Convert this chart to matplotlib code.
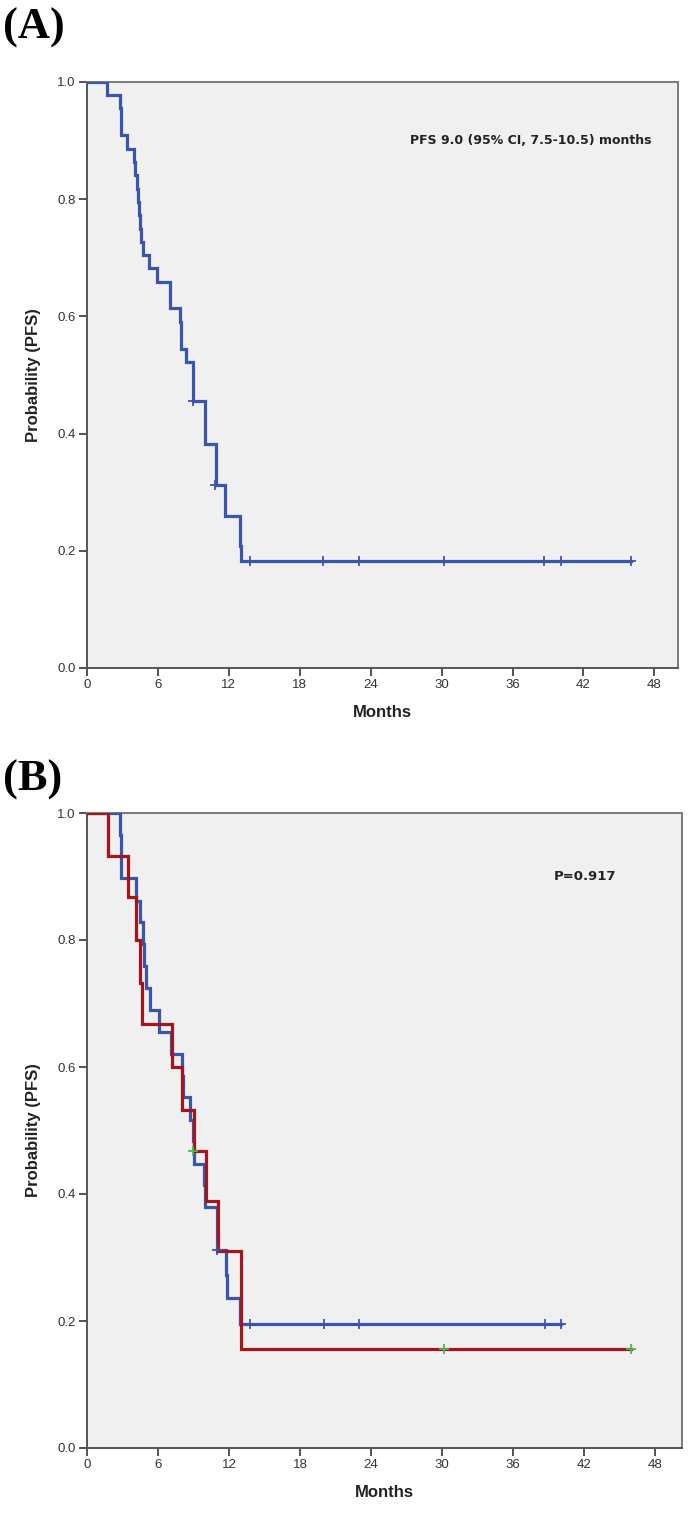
import matplotlib
matplotlib.use("Agg")
import matplotlib.pyplot as plt

# ---- Panel A data ----
a_times = [0, 1.7, 2.8, 2.9, 3.35, 4.0, 4.1, 4.2, 4.3, 4.4, 4.5, 4.6, 4.7, 5.25, 5.9,
           7.05, 7.85, 7.95, 8.35, 8.95, 9.95, 10.95, 11.65, 12.95, 13.05]
a_surv = [1.0, 0.977, 0.955, 0.909, 0.886, 0.864, 0.841, 0.818, 0.795, 0.773, 0.750,
          0.727, 0.705, 0.682, 0.659, 0.614, 0.591, 0.545, 0.523, 0.455, 0.383, 0.312,
          0.260, 0.208, 0.182]
a_end = 46.0
a_cens_t = [9.0, 10.85, 13.8, 20.0, 23.0, 30.2, 38.7, 40.1, 46.0]
a_cens_s = [0.455, 0.312, 0.182, 0.182, 0.182, 0.182, 0.182, 0.182, 0.182]
a_text = "PFS 9.0 (95% CI, 7.5-10.5) months"

# ---- Panel B data ----
b1_times = [0, 2.8, 2.9, 4.15, 4.5, 4.75, 4.85, 5.0, 5.35, 6.05, 7.1, 8.05, 8.15, 8.7,
            8.95, 9.05, 9.85, 9.95, 10.95, 11.75, 11.85, 12.95]
b1_surv = [1.0, 0.966, 0.897, 0.862, 0.828, 0.793, 0.759, 0.724, 0.690, 0.655, 0.621,
           0.586, 0.552, 0.517, 0.483, 0.448, 0.414, 0.379, 0.312, 0.272, 0.236, 0.195]
b1_end = 40.1
b1_cens_t = [11.0, 13.8, 20.0, 23.0, 38.7, 40.1]
b1_cens_s = [0.312, 0.195, 0.195, 0.195, 0.195, 0.195]

b2_times = [0, 1.75, 3.5, 4.15, 4.45, 4.65, 7.15, 8.0, 9.05, 10.05, 11.1, 13.05]
b2_surv = [1.0, 0.933, 0.867, 0.800, 0.733, 0.667, 0.600, 0.533, 0.467, 0.389, 0.311, 0.156]
b2_end = 46.0
b2_cens_t = [9.0, 30.2, 46.0]
b2_cens_s = [0.467, 0.156, 0.156]
b_text = "P=0.917"

x_ticks = [0, 6, 12, 18, 24, 30, 36, 42, 48]
y_ticks = [0.0, 0.2, 0.4, 0.6, 0.8, 1.0]

BLUE = "#3A55AC"
RED = "#A5161C"
GREEN = "#4CB84C"
BG = "#F0F0F0"

W, H = 693, 1522
fig = plt.figure(figsize=(W / 100, H / 100), dpi=100)


def make_axes(left, top, right, bottom, xmax):
    ax = fig.add_axes([left / W, 1 - bottom / H, (right - left) / W, (bottom - top) / H])
    ax.set_facecolor(BG)
    ax.set_xlim(0, xmax)
    ax.set_ylim(0, 1.0)
    ax.set_xticks(x_ticks)
    ax.set_yticks(y_ticks)
    ax.set_yticklabels([f"{v:.1f}" for v in y_ticks])
    ax.tick_params(direction="out", length=6, width=1.3, colors="#444444",
                   labelsize=9.5, pad=2)
    for lab in ax.get_xticklabels() + ax.get_yticklabels():
        lab.set_fontfamily("Liberation Sans")
        lab.set_color("#333333")
    for s in ["left", "bottom"]:
        ax.spines[s].set_color("#555555")
        ax.spines[s].set_linewidth(1.4)
    for s in ["top", "right"]:
        ax.spines[s].set_color("#7a7a7a")
        ax.spines[s].set_linewidth(1.4)
    ax.set_xlabel("Months", fontsize=12, fontweight="bold",
                  fontfamily="Liberation Sans", color="#222222", labelpad=10)
    ax.set_ylabel("Probability (PFS)", fontsize=12, fontweight="bold",
                  fontfamily="Liberation Sans", color="#222222", labelpad=12)
    return ax


def km(ax, times, surv, end, color, ct, cs, ccolor):
    xs = list(times) + [end]
    ys = list(surv) + [surv[-1]]
    ax.step(xs, ys, where="post", color=color, lw=2.3, solid_joinstyle="miter", zorder=3)
    ax.plot(ct, cs, linestyle="none", marker="+", markersize=7, mew=1.3,
            color=ccolor, zorder=4)


# Panel A
axA = make_axes(87, 82, 678, 668, 50.0)
km(axA, a_times, a_surv, a_end, BLUE, a_cens_t, a_cens_s, BLUE)
axA.text(47.8, 0.90, a_text, ha="right", va="center", fontsize=9,
         fontweight="bold", fontfamily="DejaVu Sans", color="#222222")

# Panel B
axB = make_axes(87, 813, 682, 1448, 50.3)
km(axB, b1_times, b1_surv, b1_end, BLUE, b1_cens_t, b1_cens_s, BLUE)
km(axB, b2_times, b2_surv, b2_end, RED, b2_cens_t, b2_cens_s, GREEN)
axB.text(39.5, 0.90, b_text, ha="left", va="center", fontsize=9.5,
         fontweight="bold", fontfamily="DejaVu Sans", color="#222222")

fig.text(3 / W, 1 - 28 / H, "(A)", fontsize=32, fontweight="bold",
         fontfamily="Liberation Serif", ha="left", va="center")
fig.text(3 / W, 1 - 780 / H, "(B)", fontsize=32, fontweight="bold",
         fontfamily="Liberation Serif", ha="left", va="center")

fig.savefig("out.png", dpi=100)
